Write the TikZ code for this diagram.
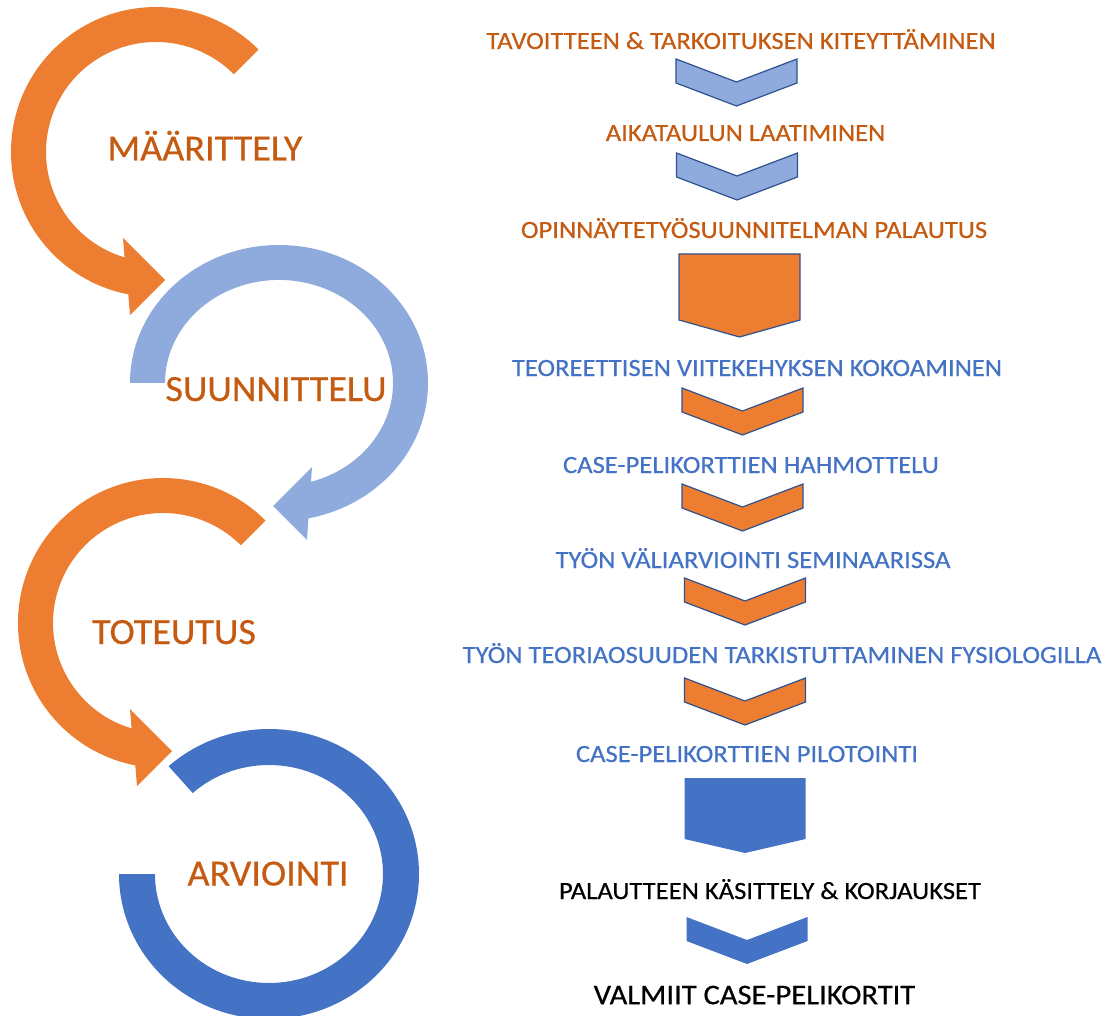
\documentclass[tikz,border=0pt]{standalone}
\usepackage{fontspec}
\setmainfont{Carlito}
\newfontfamily\heavy{Carlito}[FakeBold=0.5]
\usetikzlibrary{calc}

\definecolor{ringOrange}{HTML}{ED7D31}
\definecolor{ringLight}{HTML}{8FAADC}
\definecolor{ringDark}{HTML}{4472C4}
\definecolor{edgeBlue}{HTML}{2F528F}
\definecolor{labOrange}{HTML}{C55A11}
\definecolor{txtBlue}{HTML}{4472C4}

% slightly widened lettering
\newcommand{\phasetext}[1]{\scalebox{1.03}[1]{#1}}
\newcommand{\stagetext}[1]{\scalebox{1.073}[1]{#1}}

\tikzset{
  % downward chevron, anchored at the middle of its top edge
  pics/chevron/.style={code={
    \path[pic actions] (-60.5,0) -- (0,23) -- (60.5,0) -- (60.5,24) -- (0,47) -- (-60.5,24) -- cycle;
  }},
  % pentagon arrow pointing down: side height #1, tip depth #2
  pics/pentarrow/.style 2 args={code={
    \path[pic actions] (-60.5,0) -- (60.5,0) -- (60.5,#1) -- (0,#2) -- (-60.5,#1) -- cycle;
  }},
  % curved arrow opening to the upper right, ending in a head pointing right
  pics/curlarrow/.style={code={
    \path[pic actions] (102.5,-102.5) arc[start angle=-45, end angle=-259, radius=145]
      -- (-26,163) -- (9,128) -- (-33,86) -- (-31.4,105.4)
      arc[start angle=-253.4, end angle=-45, radius=110] -- cycle;
  }},
  phase/.style={font=\heavy\fontsize{37}{37}\selectfont, text=labOrange, inner sep=0pt,
    text height=24pt, text depth=0pt},
  stage/.style={font=\heavy\fontsize{24.8}{25}\selectfont, inner sep=0pt,
    text height=16pt, text depth=0pt},
  finalstage/.style={font=\heavy\fontsize{28.5}{29}\selectfont, inner sep=0pt,
    text height=18.4pt, text depth=0pt},
  lightchev/.style={fill=ringLight, draw=edgeBlue, line width=1.2pt, line join=miter},
  orangechev/.style={fill=ringOrange, draw=edgeBlue, line width=1.2pt, line join=miter},
  darkchev/.style={fill=ringDark},
}

\begin{document}
\begin{tikzpicture}[x=1pt, y=-1pt]
\useasboundingbox (0,0) rectangle (1114,1016);
\clip (0,0) rectangle (1114,1016);

% ---- cycle of phases on the left ----
\pic[fill=ringOrange] at (156,152) {curlarrow};

\begin{scope}[shift={(279,383)}]
  \path[fill=ringLight] (-149,0)
    arc[start angle=180, end angle=438.6, x radius=149, y radius=138]
    -- (28,157) -- (-6,123) -- (33,84) -- (32,98.8)
    arc[start angle=433.7, end angle=180, x radius=114, y radius=103] -- cycle;
\end{scope}

\pic[fill=ringOrange] at (163,623) {curlarrow};

\begin{scope}[shift={(269,874)}]
  \path[fill=ringDark] (-150,0)
    arc[start angle=180, end angle=-132, x radius=150, y radius=145]
    -- (-76.3,-81.0)
    arc[start angle=-132, end angle=180, x radius=114, y radius=109] -- cycle;
\end{scope}

\node[phase] (maar) at (205,148.5) {\phasetext{MÄÄRITTELY}};
\node[phase] (suun) at (276,389) {\phasetext{SUUNNITTELU}};
\node[phase] (tote) at (174,632) {\phasetext{TOTEUTUS}};
\node[phase] (arvi) at (268,873.5) {\phasetext{ARVIOINTI}};

% ---- work stages on the right ----
\node[stage, text=labOrange] (s1) at (741,41) {\stagetext{TAVOITTEEN \& TARKOITUKSEN KITEYTTÄMINEN}};
\node[stage, text=labOrange] (s2) at (745.5,133) {\stagetext{AIKATAULUN LAATIMINEN}};
\node[stage, text=labOrange] (s3) at (754,230) {\stagetext{OPINNÄYTETYÖSUUNNITELMAN PALAUTUS}};
\node[stage, text=txtBlue] (s4) at (757,368) {\stagetext{TEOREETTISEN VIITEKEHYKSEN KOKOAMINEN}};
\node[stage, text=txtBlue] (s5) at (751,465) {\stagetext{CASE-PELIKORTTIEN HAHMOTTELU}};
\node[stage, text=txtBlue] (s6) at (753,560) {\stagetext{TYÖN VÄLIARVIOINTI SEMINAARISSA}};
\node[stage, text=txtBlue] (s7) at (782,655) {\stagetext{TYÖN TEORIAOSUUDEN TARKISTUTTAMINEN FYSIOLOGILLA}};
\node[stage, text=txtBlue] (s8) at (747,754) {\stagetext{CASE-PELIKORTTIEN PILOTOINTI}};
\node[stage, text=black] (s9) at (770,891) {\stagetext{PALAUTTEEN KÄSITTELY \& KORJAUKSET}};
\node[finalstage, text=black] (s10) at (754.5,995) {\stagetext{VALMIIT CASE-PELIKORTIT}};

\pic[lightchev] at (736.5,59) {chevron};
\pic[lightchev] at (737,153) {chevron};
\pic[orangechev] at (739.5,254) {pentarrow={66}{83}};
\pic[orangechev] at (742.5,388) {chevron};
\pic[orangechev] at (742.5,484) {chevron};
\pic[orangechev] at (745,578) {chevron};
\pic[orangechev] at (745,678) {chevron};
\pic[darkchev] at (745,778) {pentarrow={61}{75}};
\pic[darkchev] at (747,917) {chevron};
\end{tikzpicture}
\end{document}
